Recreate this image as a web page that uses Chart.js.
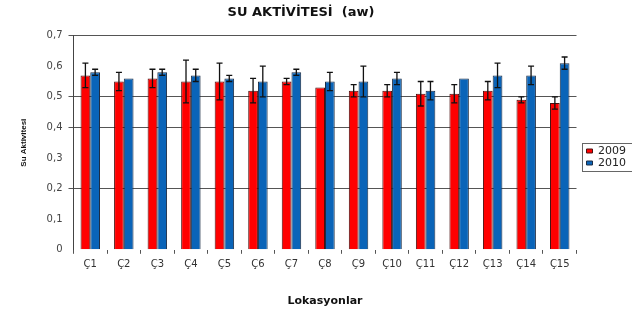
<style>
body { margin: 0; background: #fff; }
#chart_box {
  width: 632px;
  height: 318px;
}
</style>

<div id="chart_box">
  <canvas id="myChart"></canvas>
</div>

<script src="https://cdn.jsdelivr.net/npm/chart.js"></script>

<script>
const locations = ['Ç1','Ç2','Ç3','Ç4','Ç5','Ç6','Ç7','Ç8','Ç9','Ç10','Ç11','Ç12','Ç13','Ç14','Ç15'];
const aw2009 = [0.57, 0.55, 0.56, 0.55, 0.55, 0.52, 0.55, 0.53, 0.52, 0.52, 0.51, 0.51, 0.52, 0.49, 0.48];
const err2009 = [0.04, 0.03, 0.03, 0.07, 0.06, 0.04, 0.01, 0, 0.02, 0.02, 0.04, 0.03, 0.03, 0.01, 0.02];
const aw2010 = [0.58, 0.56, 0.58, 0.57, 0.56, 0.55, 0.58, 0.55, 0.55, 0.56, 0.52, 0.56, 0.57, 0.57, 0.61];
const err2010 = [0.01, 0, 0.01, 0.02, 0.01, 0.05, 0.01, 0.03, 0.05, 0.02, 0.03, 0, 0.04, 0.03, 0.02];
const yTickLabels = ['0', '0,1', '0,2', '0,3', '0,4', '0,5', '0,6', '0,7'];
const shownGrid = [2, 4, 5, 7];   // gridlines that are visible in the picture

// error bars, drawn from the y scale
const errorBars = {
  id: 'errorBars',
  afterDatasetsDraw(chart) {
    const c = chart.ctx;
    const y = chart.scales.y;
    chart.data.datasets.forEach((ds, di) => {
      const meta = chart.getDatasetMeta(di);
      meta.data.forEach((bar, i) => {
        const e = ds.errors[i];
        if (!e) return;
        const top = y.getPixelForValue(ds.data[i] + e);
        const bot = y.getPixelForValue(ds.data[i] - e);
        c.save();
        c.strokeStyle = '#111';
        c.lineWidth = 1.3;
        c.beginPath();
        c.moveTo(bar.x, top); c.lineTo(bar.x, bot);
        c.moveTo(bar.x - 3, top); c.lineTo(bar.x + 3, top);
        c.moveTo(bar.x - 3, bot); c.lineTo(bar.x + 3, bot);
        c.stroke();
        c.restore();
      });
    });
  }
};

// nudge title and legend like the original, and frame the legend
const tweaks = {
  id: 'tweaks',
  afterLayout(chart) {
    chart.legend.left += 9;
    chart.legend.right += 9;
    chart.titleBlock.left -= 22;
    chart.titleBlock.right -= 22;
  },
  afterDraw(chart) {
    const boxes = chart.legend.legendHitBoxes;
    if (!boxes || !boxes.length) return;
    const first = boxes[0], last = boxes[boxes.length - 1];
    const c = chart.ctx;
    c.save();
    c.strokeStyle = '#666';
    c.lineWidth = 1;
    c.strokeRect(Math.round(first.left) - 4.5, Math.round(first.top) - 2.5, 70, last.top + last.height - first.top + 5);
    c.restore();
  }
};

const ctx = document.getElementById('myChart');

let chart = new Chart(ctx, {
  type: 'bar',
  data: {
    labels: locations,
    datasets: [{
      label: '2009',
      data: aw2009,
      errors: err2009,
      backgroundColor: '#ff0000',
      borderColor: '#4a1010',
      borderWidth: 1,
      borderSkipped: 'bottom'
    }, {
      label: '2010',
      data: aw2010,
      errors: err2010,
      backgroundColor: '#0a64b8',
      borderColor: '#1c2c44',
      borderWidth: 1,
      borderSkipped: 'bottom'
    }]
  },
  plugins: [errorBars, tweaks],
  options: {
    responsive: true,
    maintainAspectRatio: false,
    animation: false,
    layout: { padding: { left: 19, right: 5, top: 0, bottom: 10 } },
    datasets: {
      bar: { categoryPercentage: 0.58, barPercentage: 1.0 }
    },
    plugins: {
      title: {
        display: true,
        text: 'SU AKTİVİTESİ  (aw)',
        color: '#111',
        font: { family: 'DejaVu Sans', size: 13, weight: 'bold' },
        padding: { top: 5, bottom: 15 }
      },
      legend: {
        position: 'right',
        title: { display: true, text: '', padding: 0, font: { size: 5 } },
        labels: {
          boxWidth: 6,
          boxHeight: 4,
          padding: 1,
          color: '#222',
          font: { family: 'DejaVu Sans', size: 11 }
        }
      },
      tooltip: { enabled: false }
    },
    scales: {
      x: {
        grid: { drawOnChartArea: false, drawTicks: true, tickLength: 4, offset: true, color: '#555' },
        border: { display: false },
        ticks: { color: '#333', padding: 5, font: { family: 'DejaVu Sans', size: 10 } },
        title: {
          display: true,
          text: 'Lokasyonlar',
          color: '#111',
          font: { family: 'DejaVu Sans', size: 11, weight: 'bold' },
          padding: { top: 19, bottom: 0 }
        }
      },
      y: {
        min: 0,
        max: 0.7,
        ticks: {
          stepSize: 0.1,
          color: '#444',
          padding: 6,
          font: { family: 'DejaVu Sans', size: 10 },
          callback: (v, i) => yTickLabels[i]
        },
        grid: {
          tickLength: 5,
          color: (c) => shownGrid.includes(Math.round(c.tick.value * 10)) ? '#555' : 'rgba(0,0,0,0)'
        },
        border: { display: true, color: '#444' },
        title: {
          display: true,
          text: 'Su Aktivitesi',
          color: '#111',
          font: { family: 'Liberation Sans', size: 8, weight: 'bold' },
          padding: { top: 0, bottom: 12 }
        }
      }
    }
  }
});
</script>
